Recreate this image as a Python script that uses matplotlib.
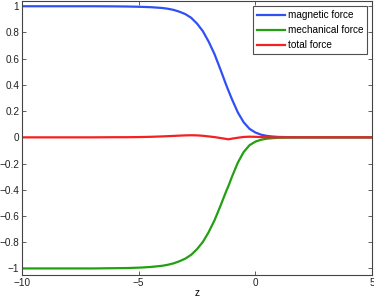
import numpy as np
import matplotlib
matplotlib.use("Agg")
import matplotlib.pyplot as plt

# values
z = [-10, -7, -6, -5.5, -5, -4.5, -4, -3.75, -3.5, -3.25, -3, -2.75, -2.5,
     -2.25, -2, -1.75, -1.5, -1.25, -1.15, -1, -0.75, -0.5, -0.25, 0, 0.25,
     0.5, 0.75, 1, 1.5, 2, 5]
magnetic = [1.0, 1.0, 0.999, 0.998, 0.996, 0.993, 0.987, 0.981, 0.972,
            0.958, 0.94, 0.912, 0.868, 0.81, 0.73, 0.635, 0.52, 0.40, 0.355,
            0.29, 0.19, 0.115, 0.065, 0.037, 0.02, 0.011, 0.006, 0.003,
            0.001, 0.0, 0.0]
mechanical = [-1.0, -1.0, -0.998, -0.997, -0.994, -0.989, -0.98, -0.972,
              -0.961, -0.945, -0.925, -0.896, -0.853, -0.798, -0.723, -0.633,
              -0.525, -0.412, -0.37, -0.30, -0.193, -0.112, -0.06, -0.033,
              -0.018, -0.01, -0.006, -0.003, -0.001, 0.0, 0.0]
total = [0.0, 0.0, 0.001, 0.001, 0.002, 0.004, 0.007, 0.009, 0.011, 0.013,
         0.015, 0.016, 0.015, 0.012, 0.007, 0.002, -0.005, -0.012, -0.015,
         -0.01, -0.003, 0.003, 0.005, 0.004, 0.002, 0.001, 0.0, 0.0, 0.0,
         0.0, 0.0]

xticks = [-10, -5, 0, 5]
xtick_labels = ['\u221210', '\u22125', '0', '5']
yticks = [-1, -0.8, -0.6, -0.4, -0.2, 0, 0.2, 0.4, 0.6, 0.8, 1]
ytick_labels = ['\u22121', '\u22120.8', '\u22120.6', '\u22120.4', '\u22120.2',
                '0', '0.2', '0.4', '0.6', '0.8', '1']

plt.rcParams['font.family'] = ['Liberation Sans', 'DejaVu Sans']
plt.rcParams['font.size'] = 7.2

fig = plt.figure(figsize=(3.74, 2.99), dpi=100)
ax = fig.add_axes([22/374, 1 - 275/299, 350/374, 274/299])

ax.plot(z, magnetic, color='#3050f5', lw=1.6, label='magnetic force')
ax.plot(z, mechanical, color='#22a012', lw=1.6, label='mechanical force')
ax.plot(z, total, color='#f52020', lw=1.6, label='total force')

ax.set_xlim(-10, 5)
ax.set_ylim(-1.05, 1.04)
ax.set_xticks(xticks)
ax.set_xticklabels(xtick_labels)
ax.set_yticks(yticks)
ax.set_yticklabels(ytick_labels)
ax.tick_params(direction='in', top=True, right=True, length=3, width=0.6,
               color='#444444', pad=2, labelcolor='#222222')
for s in ax.spines.values():
    s.set_linewidth(0.8)
    s.set_color('#444444')
ax.set_xlabel('z', labelpad=0)

leg = ax.legend(loc='upper right', fancybox=False, borderpad=0.4,
                handlelength=2.8, handletextpad=0.25, labelspacing=0.5,
                borderaxespad=0.5)
leg.get_frame().set_edgecolor('#222222')
leg.get_frame().set_linewidth(0.8)

fig.savefig('out.png', dpi=100)
